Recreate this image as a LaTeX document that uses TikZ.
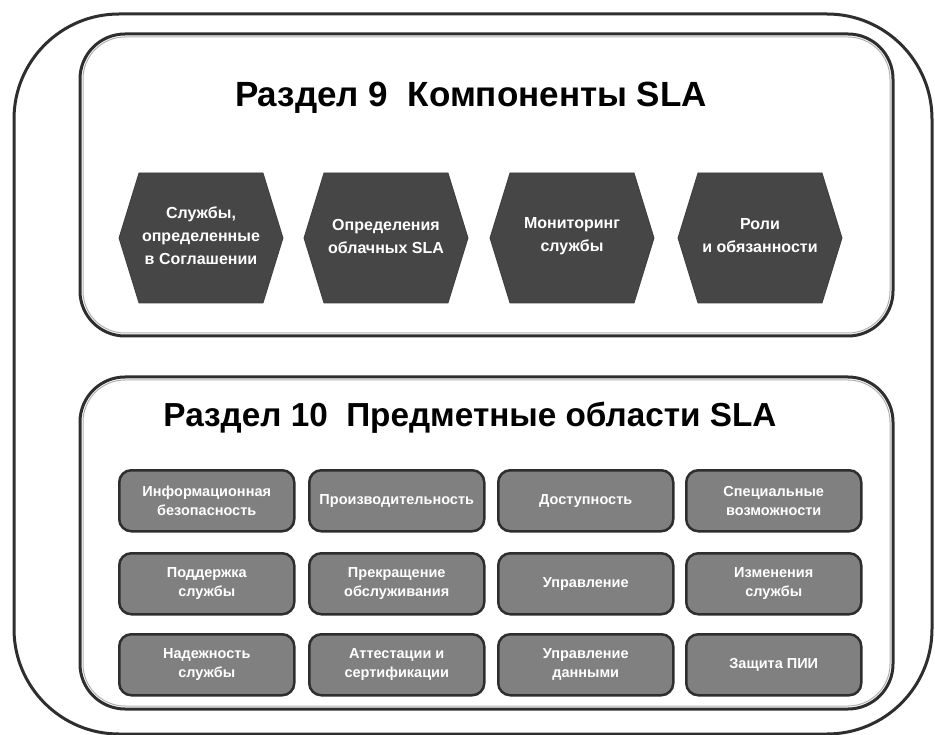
\documentclass[tikz,border=0pt]{standalone}
\usepackage{fontspec}
\setmainfont{Liberation Sans}
\definecolor{frameclr}{HTML}{2E2E2E}
\definecolor{hexclr}{HTML}{464646}
\definecolor{boxclr}{HTML}{808080}
\definecolor{innerln}{HTML}{B0B0B0}
\begin{document}
\begin{tikzpicture}[x=1pt,y=-1pt,
  frame/.style={draw=frameclr, line width=3pt},
  hexshape/.style={fill=hexclr, draw=hexclr!85!black, line width=0.8pt},
  hextext/.style={text=white, font=\fontsize{16}{23}\selectfont\bfseries, align=center, inner sep=0pt},
  areabox/.style={draw=frameclr, line width=2.5pt, fill=boxclr, rounded corners=12pt,
     minimum width=175pt, minimum height=61pt, text=white,
     font=\fontsize{14.5}{19}\selectfont\bfseries, align=center, inner sep=0pt, anchor=north west},
  titletext/.style={font=\bfseries, inner sep=0pt}]
\useasboundingbox (0,0) rectangle (935,735);
% outer frame
\draw[frame, rounded corners=105pt] (14,14) rectangle (932,734);
% section 9 frame
\draw[frame, rounded corners=45pt] (80,34) rectangle (893,336);
\draw[draw=innerln, line width=1pt, rounded corners=42pt] (83,37) rectangle (890,333);
% section 10 frame
\draw[frame, rounded corners=45pt] (80,377) rectangle (893,709);
\draw[draw=innerln, line width=1pt, rounded corners=42pt] (83,380) rectangle (890,706);

\node[titletext, font=\fontsize{35}{40}\selectfont\bfseries] (t9) at (471,98) {Раздел 9\ \ Компоненты SLA};
\node[titletext, font=\fontsize{33.3}{40}\selectfont\bfseries] (t10) at (470,418) {Раздел 10\ \ Предметные области SLA};

% hexagons
\foreach \cx in {201,386,572,760}{
  \path[hexshape] (\cx-62,173) -- (\cx+62,173) -- (\cx+82,238) -- (\cx+62,303)
     -- (\cx-62,303) -- (\cx-82,238) -- cycle;
}
\node[hextext] (h1) at (201,236) {Службы,\\определенные\\в Соглашении};
\node[hextext] (h2) at (386,236) {Определения\\облачных SLA};
\node[hextext] (h3) at (572,236) {Мониторинг\\службы};
\node[hextext] (h4) at (760,236) {Роли\\и обязанности};

% subject areas
\node[areabox] (b11) at (118,469) {Информационная\\безопасность};
\node[areabox] (b12) at (308,469) {Производительность};
\node[areabox] (b13) at (497,469) {Доступность};
\node[areabox] (b14) at (685,469) {Специальные\\возможности};

\node[areabox] (b21) at (118,552) {Поддержка\\службы};
\node[areabox] (b22) at (308,552) {Прекращение\\обслуживания};
\node[areabox] (b23) at (497,552) {Управление};
\node[areabox] (b24) at (685,552) {Изменения\\службы};

\node[areabox] (b31) at (118,633) {Надежность\\службы};
\node[areabox] (b32) at (308,633) {Аттестации и\\сертификации};
\node[areabox] (b33) at (497,633) {Управление\\данными};
\node[areabox] (b34) at (685,633) {Защита ПИИ};
\end{tikzpicture}
\end{document}
